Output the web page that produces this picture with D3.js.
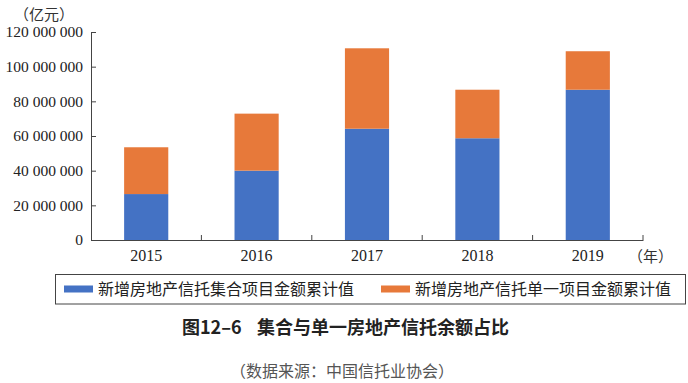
<!DOCTYPE html>
<html>
<head>
<meta charset="utf-8">
<script src="https://cdn.jsdelivr.net/npm/d3@7"></script>
<style>
  body { margin: 0; background: #fff; }
  svg { display: block; }
</style>
</head>
<body>
<svg id="chart" width="688" height="383"></svg>
<script>
// data
const years = ['2015', '2016', '2017', '2018', '2019'];
const jiheValues = [26500000, 40000000, 64200000, 58700000, 86700000];
const danyiValues = [27000000, 32900000, 46400000, 28000000, 22200000];
const yTicks = [0, 20000000, 40000000, 60000000, 80000000, 100000000, 120000000];
const seriesNames = ['新增房地产信托集合项目金额累计值', '新增房地产信托单一项目金额累计值'];
const colors = ['#4472c4', '#e7793a'];

const width = 688;
const marginLeft = 91, marginRight = 45;
const plotTop = 32, plotBottom = 240;
const serif = '"Liberation Serif", "Times New Roman", serif';
const cjk = '"Noto Sans CJK SC", sans-serif';

const svg = d3.select('#chart');

const x = d3.scaleBand()
  .domain(years)
  .range([marginLeft, width - marginRight])
  .paddingInner(0.6)
  .paddingOuter(0.3);

const y = d3.scaleLinear()
  .domain([0, 120000000])
  .range([plotBottom, plotTop]);

const fmt = v => d3.format(',')(v).replace(/,/g, ' ');

const stacked = d3.stack().keys([0, 1])(years.map((yr, i) => [jiheValues[i], danyiValues[i]]));

svg.append('g')
  .selectAll('g')
  .data(stacked)
  .join('g')
  .attr('fill', (d, i) => colors[i])
  .selectAll('rect')
  .data(d => d)
  .join('rect')
  .attr('x', (d, i) => x(years[i]))
  .attr('width', x.bandwidth())
  .attr('y', d => y(d[1]))
  .attr('height', d => y(d[0]) - y(d[1]));

// y axis, ticks pointing inward
const yAxis = svg.append('g')
  .attr('transform', `translate(${marginLeft},0)`)
  .call(d3.axisLeft(y).tickValues(yTicks).tickFormat(fmt).tickSizeInner(-5).tickSizeOuter(0).tickPadding(8));
yAxis.selectAll('path, line').attr('stroke', '#444');
yAxis.selectAll('text').attr('font-family', serif).attr('font-size', '15.5px').attr('fill', '#222');

// x axis with labels, then boundary ticks
const xAxis = svg.append('g')
  .attr('transform', `translate(0,${plotBottom})`)
  .call(d3.axisBottom(x).tickSize(0).tickPadding(10));
xAxis.select('path').attr('stroke', '#444');
xAxis.selectAll('text').attr('font-family', serif).attr('font-size', '16px').attr('fill', '#222');

svg.append('g')
  .selectAll('line')
  .data(years)
  .join('line')
  .attr('x1', d => x(d) + x.bandwidth() / 2 + x.step() / 2)
  .attr('x2', d => x(d) + x.bandwidth() / 2 + x.step() / 2)
  .attr('y1', plotBottom)
  .attr('y2', plotBottom - 5)
  .attr('stroke', '#444');

// unit labels
svg.append('text')
  .attr('x', 14).attr('y', 20)
  .attr('font-family', cjk).attr('font-size', '15px').attr('fill', '#333')
  .text('（亿元）');
svg.append('text')
  .attr('x', 628).attr('y', 262)
  .attr('font-family', cjk).attr('font-size', '15px').attr('fill', '#333')
  .text('（年）');

// legend
svg.append('rect')
  .attr('x', 55.5).attr('y', 274.5)
  .attr('width', 630).attr('height', 29.5)
  .attr('fill', 'none').attr('stroke', '#444');

const legendX = [64, 381];
const legend = svg.append('g')
  .selectAll('g')
  .data(seriesNames)
  .join('g')
  .attr('transform', (d, i) => `translate(${legendX[i]},289)`);
legend.append('rect')
  .attr('x', 0).attr('y', -3.5)
  .attr('width', 29).attr('height', 7)
  .attr('fill', (d, i) => colors[i]);
legend.append('text')
  .attr('x', 34).attr('y', 6)
  .attr('font-family', cjk).attr('font-size', '16px').attr('fill', '#222')
  .text(d => d);

// caption
svg.append('text')
  .attr('x', 182).attr('y', 334)
  .attr('font-family', cjk).attr('font-size', '18px').attr('font-weight', 'bold').attr('fill', '#222')
  .text('图12–6');
svg.append('text')
  .attr('x', 257).attr('y', 334)
  .attr('font-family', cjk).attr('font-size', '18px').attr('font-weight', 'bold').attr('fill', '#222')
  .text('集合与单一房地产信托余额占比');
svg.append('text')
  .attr('x', 230).attr('y', 377)
  .attr('font-family', cjk).attr('font-size', '16px').attr('fill', '#555')
  .text('（数据来源：中国信托业协会）');
</script>
</body>
</html>
